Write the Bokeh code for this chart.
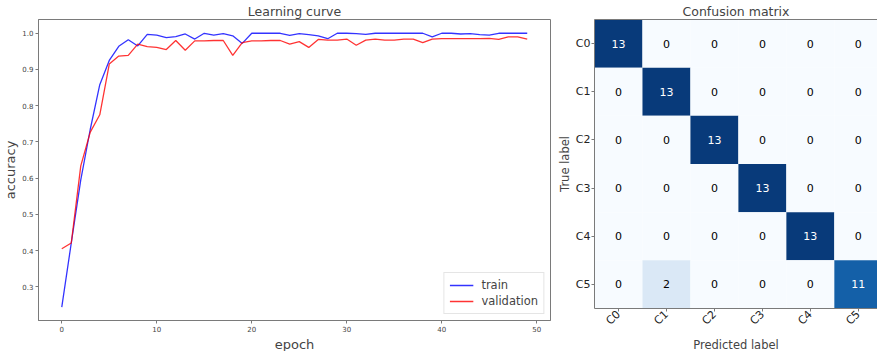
from bokeh.plotting import figure
from bokeh.models import (Range1d, FixedTicker, ColumnDataSource, LinearColorMapper,
                          LinearAxis, Legend, LegendItem, PrintfTickFormatter, Title)
from bokeh.layouts import row, column
from bokeh.palettes import Blues256
from bokeh.core.properties import value
from bokeh.embed import file_html
from bokeh.resources import INLINE

# ---------------- data ----------------
epochs = list(range(50))
train_acc = [0.244, 0.421, 0.595, 0.735, 0.858, 0.925, 0.964, 0.982, 0.965, 0.997,
             0.995, 0.988, 0.991, 0.998, 0.984, 1.000, 0.995, 0.999, 0.993, 0.972,
             1.000, 1.000, 1.000, 1.000, 0.994, 0.999, 0.996, 0.993, 0.985, 1.000,
             1.000, 0.999, 0.997, 1.000, 1.000, 1.000, 1.000, 1.000, 1.000, 0.990,
             1.000, 1.000, 0.998, 0.999, 0.996, 0.995, 1.000, 1.000, 1.000, 1.000]
val_acc = [0.405, 0.421, 0.634, 0.727, 0.775, 0.915, 0.937, 0.939, 0.970, 0.963,
           0.961, 0.955, 0.980, 0.953, 0.979, 0.979, 0.980, 0.980, 0.939, 0.974,
           0.979, 0.979, 0.980, 0.980, 0.970, 0.977, 0.961, 0.983, 0.981, 0.981,
           0.984, 0.967, 0.981, 0.984, 0.981, 0.981, 0.984, 0.984, 0.974, 0.984,
           0.985, 0.985, 0.985, 0.985, 0.985, 0.986, 0.983, 0.990, 0.990, 0.984]
x_ticks = [0, 10, 20, 30, 40, 50]
y_ticks = [0.3, 0.4, 0.5, 0.6, 0.7, 0.8, 0.9, 1.0]

classes = ["C0", "C1", "C2", "C3", "C4", "C5"]
cm_C0 = [13, 0, 0, 0, 0, 0]
cm_C1 = [0, 13, 0, 0, 0, 0]
cm_C2 = [0, 0, 13, 0, 0, 0]
cm_C3 = [0, 0, 0, 13, 0, 0]
cm_C4 = [0, 0, 0, 0, 13, 0]
cm_C5 = [0, 2, 0, 0, 0, 11]
cm_rows = [cm_C0, cm_C1, cm_C2, cm_C3, cm_C4, cm_C5]

FONT = "DejaVu Sans"
FRAME = "#7a7a7a"
H = 351

# ---------------- learning curve ----------------
p1 = figure(width=554, height=H, x_range=Range1d(-2.45, 51.45),
            y_range=Range1d(0.207, 1.038), output_backend="svg",
            toolbar_location=None, min_border_left=30, min_border_right=4,
            min_border_top=16, min_border_bottom=0, title="Learning curve")
p1.title.align = "center"
p1.title.text_font = FONT
p1.title.text_font_size = "12.5px"
p1.title.text_font_style = "normal"
p1.title.standoff = 2
p1.grid.visible = False
p1.outline_line_color = FRAME
p1.outline_line_alpha = 1

r_train = p1.line(epochs, train_acc, line_color="blue", line_alpha=0.8, line_width=1.3)
r_val = p1.line(epochs, val_acc, line_color="red", line_alpha=0.8, line_width=1.3)

p1.xaxis.ticker = FixedTicker(ticks=x_ticks)
p1.yaxis.ticker = FixedTicker(ticks=y_ticks)
p1.yaxis.formatter = PrintfTickFormatter(format="%.1f")
p1.yaxis.axis_label = "accuracy"
for ax in (p1.xaxis[0], p1.yaxis[0]):
    ax.axis_line_color = FRAME
    ax.major_tick_line_color = FRAME
    ax.minor_tick_line_color = None
    ax.major_tick_out = 3
    ax.major_tick_in = 0
    ax.major_label_text_font = FONT
    ax.major_label_text_font_size = "7px"
    ax.major_label_text_color = "#444444"
    ax.major_label_standoff = 2
    ax.axis_label_text_font = FONT
    ax.axis_label_text_font_size = "13px"
    ax.axis_label_text_font_style = "normal"
    ax.axis_label_standoff = 1

p1.add_layout(Title(text="epoch", align="center", text_font=FONT,
                    text_font_size="13px", text_font_style="normal",
                    standoff=0, offset=0), "below")

legend = Legend(items=[LegendItem(label="train", renderers=[r_train]),
                       LegendItem(label="validation", renderers=[r_val])],
                location="bottom_right")
legend.label_text_font = FONT
legend.label_text_font_size = "11.5px"
legend.glyph_width = 24
legend.glyph_height = 14
legend.spacing = 2
legend.padding = 5
legend.margin = 6
legend.label_standoff = 8
legend.border_line_color = "#cccccc"
p1.add_layout(legend)

# ---------------- confusion matrix ----------------
xs, ys, vals, labels, tcolors = [], [], [], [], []
for i, r in enumerate(cm_rows):
    for j, v in enumerate(r):
        xs.append(j)
        ys.append(i)
        vals.append(v)
        labels.append(str(v))
        tcolors.append("white" if v > 6.5 else "black")
src = ColumnDataSource(dict(x=xs, y=ys, v=vals, t=labels, tc=tcolors))

mapper = LinearColorMapper(palette=list(Blues256[::-1])[:246], low=0, high=13)

p2 = figure(width=323, height=H, x_range=Range1d(-0.5, 5.4),
            y_range=Range1d(5.5, -0.5), output_backend="svg",
            toolbar_location=None, min_border_left=38, min_border_right=0,
            min_border_top=14, min_border_bottom=0, title="Confusion matrix")
p2.title.align = "center"
p2.title.text_font = FONT
p2.title.text_font_size = "12.5px"
p2.title.text_font_style = "normal"
p2.title.standoff = 2
p2.grid.visible = False
p2.outline_line_color = None

p2.rect(x="x", y="y", width=1, height=1, source=src,
        fill_color={"field": "v", "transform": mapper}, line_color=None)
p2.text(x="x", y="y", text="t", source=src, text_color="tc",
        text_align="center", text_baseline="middle",
        text_font=value(FONT), text_font_size=value("11px"))

ticks6 = list(range(len(classes)))
overrides = {k: c for k, c in zip(ticks6, classes)}
p2.xaxis.ticker = FixedTicker(ticks=ticks6)
p2.yaxis.ticker = FixedTicker(ticks=ticks6)
p2.xaxis.major_label_overrides = overrides
p2.yaxis.major_label_overrides = overrides
p2.xaxis.major_label_orientation = 0.785
p2.yaxis.axis_label = "True label"
for ax in (p2.xaxis[0], p2.yaxis[0]):
    ax.axis_line_color = FRAME
    ax.major_tick_line_color = FRAME
    ax.minor_tick_line_color = None
    ax.major_tick_out = 3
    ax.major_tick_in = 0
    ax.major_label_text_font = FONT
    ax.major_label_text_font_size = "11px"
    ax.major_label_text_color = "#222222"
    ax.major_label_standoff = 1
    ax.axis_label_text_font = FONT
    ax.axis_label_text_font_size = "11.5px"
    ax.axis_label_text_font_style = "normal"
    ax.axis_label_standoff = 1

p2.add_layout(Title(text="Predicted label", align="center", text_font=FONT,
                    text_font_size="11.5px", text_font_style="normal",
                    standoff=0, offset=0), "below")

top_axis = LinearAxis(ticker=FixedTicker(ticks=[]), axis_line_color=FRAME,
                      major_tick_line_color=None, minor_tick_line_color=None,
                      major_label_text_font_size="0px")
p2.add_layout(top_axis, "above")

layout = row(column(p1), column(p2))
open("out.html", "w").write(file_html(layout, INLINE))
